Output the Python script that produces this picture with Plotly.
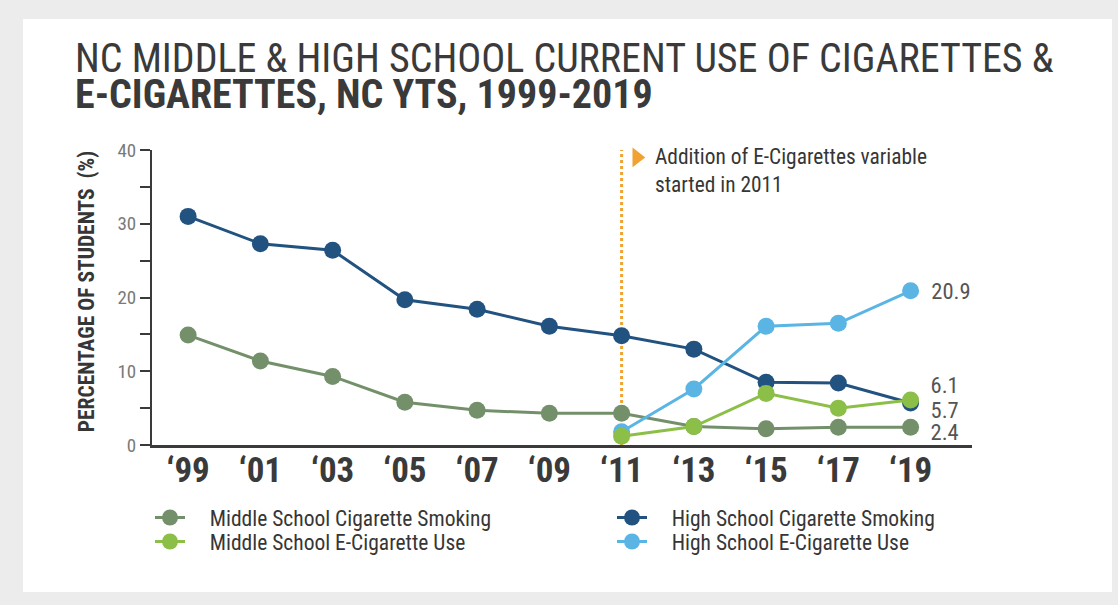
import plotly.graph_objects as go

# Survey years and axis labels
years = [1999, 2001, 2003, 2005, 2007, 2009, 2011, 2013, 2015, 2017, 2019]
year_labels = ["\u201899", "\u201801", "\u201803", "\u201805", "\u201807", "\u201809",
               "\u201811", "\u201813", "\u201815", "\u201817", "\u201819"]

# Current use (%) by group
ms_cig = [14.9, 11.4, 9.3, 5.8, 4.7, 4.3, 4.3, 2.5, 2.2, 2.4, 2.4]
hs_cig = [31.0, 27.3, 26.4, 19.7, 18.4, 16.1, 14.8, 13.0, 8.5, 8.4, 5.7]
ms_ecig = [None, None, None, None, None, None, 1.2, 2.5, 7.0, 5.0, 6.1]
hs_ecig = [None, None, None, None, None, None, 1.8, 7.6, 16.1, 16.5, 20.9]

y_ticks = [0, 5, 10, 15, 20, 25, 30, 35, 40]
y_ticktext = ["0", "", "10", "", "20", "", "30", "", "40"]

NAVY = "#22527f"
SAGE = "#74906a"
LIME = "#8cbf48"
SKY = "#5bb5e4"
ORANGE = "#f1a230"
FONT = "Roboto, sans-serif"
TEXT = "#363636"

# Plot area in pixels: x 152..972, y 150..445
PL, PR, PT, PB = 152, 972, 150, 445


def px(x):
    return (x - PL) / (PR - PL)


def py(y):
    return (PB - y) / (PB - PT)


# (legend name, values, colour, legend id, end-label vertical offset in px)
series = [
    ("High School Cigarette Smoking", hs_cig, NAVY, "legend2", -7),
    ("Middle School Cigarette Smoking", ms_cig, SAGE, "legend", -5),
    ("High School E-Cigarette Use", hs_ecig, SKY, "legend4", 0),
    ("Middle School E-Cigarette Use", ms_ecig, LIME, "legend3", 15),
]

fig = go.Figure()

# Dotted line marking when e-cigarette tracking began
fig.add_trace(go.Scatter(
    x=[2011, 2011], y=[0, 40.4], mode="lines",
    line=dict(color=ORANGE, width=3, dash="3px,3px"),
    showlegend=False, hoverinfo="skip", cliponaxis=False,
))
fig.add_trace(go.Scatter(
    x=[2011.42], y=[39.0], mode="markers",
    marker=dict(symbol="triangle-right", size=17, color=ORANGE),
    showlegend=False, hoverinfo="skip", cliponaxis=False,
))

for name, vals, color, leg, _ in series:
    fig.add_trace(go.Scatter(
        x=years, y=vals, name="\u00a0" * 4 + name, mode="lines+markers",
        line=dict(color=color, width=3),
        marker=dict(size=17, color=color),
        legend=leg, cliponaxis=False,
    ))

annotations = []
for name, vals, color, leg, shift in series:
    annotations.append(dict(
        x=years[-1], y=vals[-1], xref="x", yref="y",
        text=f"{vals[-1]:.1f}", showarrow=False,
        xanchor="left", yanchor="middle", xshift=16, yshift=shift,
        font=dict(family=FONT, size=22.5, color="#555555"),
    ))

# Title, first line regular and second line bold
annotations.append(dict(
    xref="paper", yref="paper", x=px(73), y=py(33),
    xanchor="left", yanchor="top", showarrow=False, align="left",
    text="NC MIDDLE & HIGH SCHOOL CURRENT USE OF CIGARETTES &",
    font=dict(family=FONT, size=40, color="#3a3a3a"),
))
annotations.append(dict(
    xref="paper", yref="paper", x=px(73), y=py(69),
    xanchor="left", yanchor="top", showarrow=False, align="left",
    text="<b>E-CIGARETTES, NC YTS, 1999-2019</b>",
    font=dict(family=FONT, size=40, color="#3a3a3a"),
))
# Y axis title
annotations.append(dict(
    xref="paper", yref="paper", x=px(86), y=py(292),
    xanchor="center", yanchor="middle", showarrow=False, textangle=-90,
    text="<b>PERCENTAGE OF STUDENTS  (%)</b>",
    font=dict(family=FONT, size=21.5, color=TEXT),
))
# Note beside the dotted line
annotations.append(dict(
    xref="paper", yref="paper", x=px(653), y=py(142),
    xanchor="left", yanchor="top", showarrow=False, align="left",
    text="Addition of E-Cigarettes variable<br>started in 2011",
    font=dict(family=FONT, size=21.4, color=TEXT),
))

legend_common = dict(
    orientation="v", xanchor="left", yanchor="top",
    font=dict(family=FONT, size=21.5, color=TEXT),
    bgcolor="rgba(0,0,0,0)", itemwidth=30, tracegroupgap=0,
)

fig.update_layout(
    width=1118, height=605,
    margin=dict(l=PL, r=1118 - PR, t=PT, b=605 - PB, autoexpand=False),
    paper_bgcolor="#ececec",
    plot_bgcolor="white",
    font=dict(family=FONT, color=TEXT),
    annotations=annotations,
    shapes=[dict(type="rect", xref="paper", yref="paper", layer="below",
                 x0=px(23), x1=px(1112), y0=py(592), y1=py(19),
                 fillcolor="white", line=dict(width=0))],
    legend=dict(x=px(150), y=py(497), **legend_common),
    legend2=dict(x=px(612), y=py(497), **legend_common),
    legend3=dict(x=px(150), y=py(521), **legend_common),
    legend4=dict(x=px(612), y=py(521), **legend_common),
    xaxis=dict(
        range=[1998.0, 2020.7], tickvals=years, ticktext=year_labels,
        showgrid=False, zeroline=False, showline=True, linecolor="#3a3a3a", linewidth=3,
        ticks="", ticklabelstandoff=-8,
        tickfont=dict(family=FONT, size=35, color="#3a3a3a", weight="bold"),
    ),
    yaxis=dict(
        range=[0, 40], tickvals=y_ticks, ticktext=y_ticktext,
        showgrid=False, zeroline=False, showline=True, linecolor="#3a3a3a", linewidth=2,
        ticks="outside", ticklen=10, tickwidth=2, tickcolor="#3a3a3a",
        tickfont=dict(family=FONT, size=19, color="#7a7a7a"),
    ),
)

# Use the condensed width of Roboto for every label, then redraw so
# Plotly measures the text with that width.
post_js = """
var st = document.createElement('style');
st.textContent = 'text { font-stretch: 75% !important; }';
document.head.appendChild(st);
var gd = document.getElementById('{plot_id}');
Plotly.newPlot(gd, gd.data, gd.layout);
"""

fig.write_html("out.html", post_script=post_js)
